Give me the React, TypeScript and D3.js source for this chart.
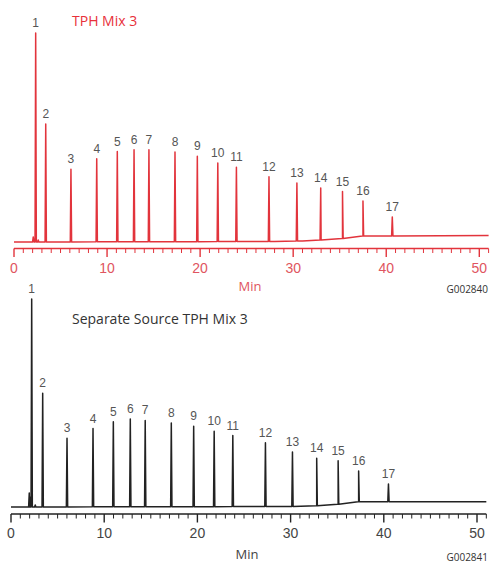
import React from "react";
import * as d3 from "d3";

// ---- data ----
const peakLabels = ["1","2","3","4","5","6","7","8","9","10","11","12","13","14","15","16","17"];

// Top chromatogram (TPH Mix 3)
const topRetention = [2.33, 3.41, 6.12, 8.89, 11.1, 12.9, 14.5, 17.3, 19.7, 21.9, 23.9, 27.4, 30.4, 32.96, 35.3, 37.5, 40.65];
const topHeights = [209, 118, 72.7, 83, 90.3, 92, 92, 89.7, 85.3, 78.7, 74.3, 64.7, 58, 52, 47, 35, 19];
const topMinorTimes = [2.07, 2.6];
const topMinorHeights = [5, 2];
const topDriftTimes = [0, 28, 31, 33, 35.3, 37.5, 51];
const topDriftValues = [0, 0.5, 1, 2, 3.5, 6, 6.5];

// Bottom chromatogram (Separate Source TPH Mix 3)
const botRetention = [2.22, 3.4, 6.01, 8.8, 10.98, 12.8, 14.4, 17.2, 19.6, 21.8, 23.8, 27.3, 30.2, 32.8, 35.1, 37.3, 40.5];
const botHeights = [208, 113.7, 68.7, 78.3, 85, 87.7, 86.3, 83.7, 80.3, 75.3, 71, 63.7, 54.5, 47.5, 43.5, 30.7, 17.7];
const botMinorTimes = [1.96, 2.04, 2.6];
const botMinorHeights = [14, 10, 2];
const botDriftTimes = [0, 30, 32.8, 35.1, 37.3, 51];
const botDriftValues = [0, 0.5, 1.2, 2.8, 5.3, 5.3];

const xTickValues = [0, 10, 20, 30, 40, 50];

type PanelProps = {
  retention: number[];
  heights: number[];
  minorTimes: number[];
  minorHeights: number[];
  driftTimes: number[];
  driftValues: number[];
  x0: number;
  pxPerMin: number;
  baseY: number;
  axisY: number;
  traceColor: string;
  axisColor: string;
  tickLabelColor: string;
  title: string;
  titleColor: string;
  titleY: number;
  code: string;
  codeY: number;
  minY: number;
  minX: number;
};

function Panel(p: PanelProps) {
  const x = d3.scaleLinear().domain([0, 51]).range([p.x0, p.x0 + 51 * p.pxPerMin]);
  const y = d3.scaleLinear().domain([0, 210]).range([p.baseY, p.baseY - 210]);
  const drift = d3.scaleLinear().domain(p.driftTimes).range(p.driftValues).clamp(true);

  const halfW = 0.07;
  const spikes: { t: number; h: number }[] = [];
  p.retention.forEach((t, i) => spikes.push({ t, h: p.heights[i] }));
  p.minorTimes.forEach((t, i) => spikes.push({ t, h: p.minorHeights[i] }));
  const nodes: [number, number][] = p.driftTimes.map((t) => [t, drift(t)]);
  spikes.forEach((s) => {
    const b = drift(s.t);
    nodes.push([s.t - halfW, b]);
    nodes.push([s.t, b + s.h]);
    nodes.push([s.t + halfW, b]);
  });
  nodes.sort((a, b) => a[0] - b[0]);

  const line = d3
    .line<[number, number]>()
    .x((d) => x(d[0]))
    .y((d) => y(d[1]));

  const minorTicks = d3.range(0, 52, 1);

  return (
    <g>
      <path d={line(nodes) || ""} fill="none" stroke={p.traceColor} strokeWidth={1.5} strokeLinejoin="round" />
      {p.retention.map((t, i) => (
        <text
          key={"l" + i}
          x={x(t)}
          y={y(drift(t) + p.heights[i]) - 6}
          textAnchor="middle"
          fontFamily="Liberation Sans, Arial, sans-serif"
          fontSize={12}
          fill="#555"
        >
          {peakLabels[i]}
        </text>
      ))}
      <line x1={x(0)} x2={x(51)} y1={p.axisY} y2={p.axisY} stroke={p.axisColor} strokeWidth={1.4} />
      {minorTicks.map((t) => (
        <line
          key={"t" + t}
          x1={x(t)}
          x2={x(t)}
          y1={p.axisY}
          y2={p.axisY + (t % 10 === 0 ? 8.5 : 4.5)}
          stroke={p.axisColor}
          strokeWidth={t % 10 === 0 ? 1.4 : 1}
        />
      ))}
      {xTickValues.map((t) => (
        <text
          key={"x" + t}
          x={x(t)}
          y={p.axisY + 24}
          textAnchor="middle"
          fontFamily="Liberation Sans, Arial, sans-serif"
          fontSize={14}
          fill={p.tickLabelColor}
        >
          {t}
        </text>
      ))}
      <text
        x={p.minX}
        y={p.minY}
        textAnchor="middle"
        fontFamily="Open Sans, Noto Sans, sans-serif"
        fontSize={13}
        fill={p.tickLabelColor}
      >
        Min
      </text>
      <text
        x={488}
        y={p.codeY}
        textAnchor="end"
        fontFamily="Open Sans, Noto Sans, sans-serif"
        fontSize={10}
        fill="#333"
      >
        {p.code}
      </text>
      <text
        x={72}
        y={p.titleY}
        fontFamily="Open Sans, Noto Sans, sans-serif"
        fontSize={14}
        fill={p.titleColor}
      >
        {p.title}
      </text>
    </g>
  );
}

export default function App() {
  return (
    <svg
      width={490}
      height={563}
      style={{ position: "absolute", left: 0, top: 0, background: "#fff" }}
    >
      <Panel
        retention={topRetention}
        heights={topHeights}
        minorTimes={topMinorTimes}
        minorHeights={topMinorHeights}
        driftTimes={topDriftTimes}
        driftValues={topDriftValues}
        x0={14}
        pxPerMin={9.306}
        baseY={242}
        axisY={248.5}
        traceColor="#e2343c"
        axisColor="#e2343c"
        tickLabelColor="#e05560"
        title="TPH Mix 3"
        titleColor="#e8303a"
        titleY={26}
        code="G002840"
        codeY={293}
        minY={291}
        minX={250}
      />
      <Panel
        retention={botRetention}
        heights={botHeights}
        minorTimes={botMinorTimes}
        minorHeights={botMinorHeights}
        driftTimes={botDriftTimes}
        driftValues={botDriftValues}
        x0={11}
        pxPerMin={9.32}
        baseY={507}
        axisY={514}
        traceColor="#222"
        axisColor="#222"
        tickLabelColor="#444"
        title="Separate Source TPH Mix 3"
        titleColor="#333"
        titleY={324}
        code="G002841"
        codeY={561}
        minY={559}
        minX={247}
      />
    </svg>
  );
}
